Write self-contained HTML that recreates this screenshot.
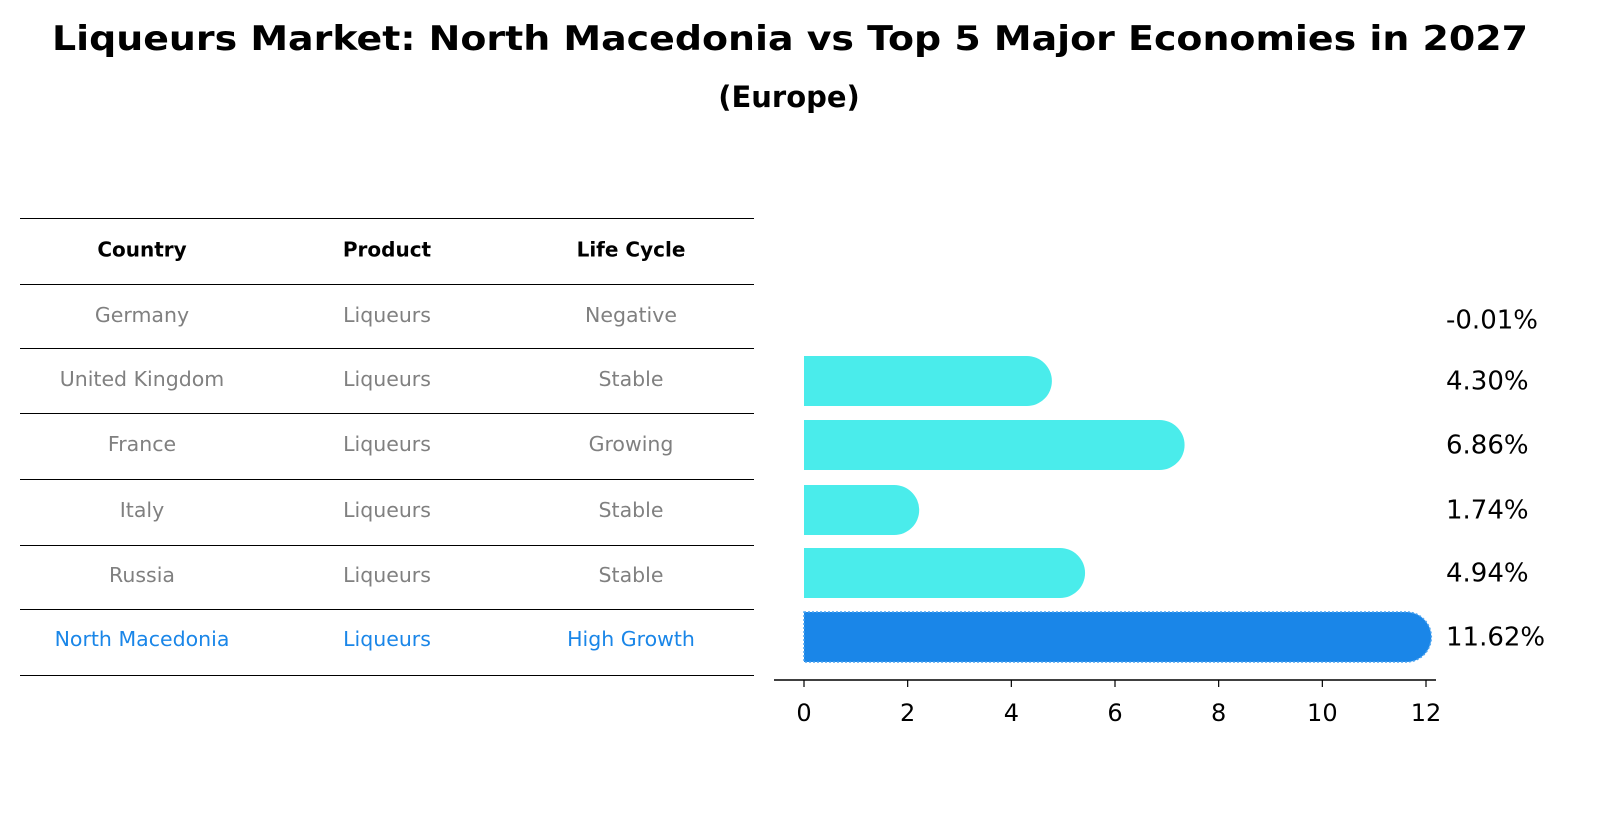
<!DOCTYPE html>
<html><head><meta charset="utf-8"><style>
body{margin:0;background:#fff;font-family:"DejaVu Sans","Liberation Sans",sans-serif;}
svg text{font-family:"DejaVu Sans","Liberation Sans",sans-serif;}
</style></head><body>
<svg id="c" width="1604" height="823" xmlns="http://www.w3.org/2000/svg">
<text x="790" y="50" text-anchor="middle" font-size="34" font-weight="bold" textLength="1476" lengthAdjust="spacingAndGlyphs">Liqueurs Market: North Macedonia vs Top 5 Major Economies in 2027</text>
<text x="789" y="107" text-anchor="middle" font-size="29" font-weight="bold">(Europe)</text>
<g id="table"></g>
<g id="bars"></g>
</svg>
<script>
const countries=["Germany","United Kingdom","France","Italy","Russia","North Macedonia"];
const products=["Liqueurs","Liqueurs","Liqueurs","Liqueurs","Liqueurs","Liqueurs"];
const lifecycle=["Negative","Stable","Growing","Stable","Stable","High Growth"];
const values=[-0.01,4.30,6.86,1.74,4.94,11.62];
const ticks=[0,2,4,6,8,10,12];
const NS="http://www.w3.org/2000/svg";
function mk(t,a,p){const e=document.createElementNS(NS,t);for(const k in a)e.setAttribute(k,a[k]);p.appendChild(e);return e;}
const tb=document.getElementById('table');
const lines=[218,284,348,413,479,545,609,675];
lines.forEach(y=>{const l=mk('line',{x1:20,x2:754,y1:y+0.5,y2:y+0.5,stroke:'#000','stroke-width':1},tb);

});
const cx=[142,387,631];
["Country","Product","Life Cycle"].forEach((h,i)=>{const t=mk('text',{x:cx[i],y:251,'text-anchor':'middle','font-size':20,'font-weight':'bold','dominant-baseline':'middle'},tb);t.textContent=h;

});
const rowY=[316,380,445,511,576,640];
countries.forEach((c,r)=>{const col=r===5?'#1a86e8':'#808080';
[c,products[r],lifecycle[r]].forEach((v,i)=>{const t=mk('text',{x:cx[i],y:rowY[r],'text-anchor':'middle','font-size':20.5,fill:col,'dominant-baseline':'middle'},tb);t.textContent=v;

});});
const bg=document.getElementById('bars');
const x0=804,x12=1426;const sx=v=>x0+(x12-x0)*v/12;
const barY=[320,381,445,510,573,637];const h=50,rr=25;
values.forEach((v,i)=>{const yc=barY[i];const col=i===5?'#1a86e8':'#4aeceb';
if(v>0){const xe=sx(v);
const p=mk('path',{d:`M${x0},${yc-h/2} L${xe},${yc-h/2} A${rr},${rr} 0 0 1 ${xe},${yc+h/2} L${x0},${yc+h/2} Z`,fill:col},bg);
if(i===5){p.setAttribute('stroke','#4aa3f0');p.setAttribute('stroke-dasharray','2,2');p.setAttribute('stroke-width','1.5');}

}
const t=mk('text',{x:1446,y:yc+1,'font-size':26,'dominant-baseline':'middle'},bg);
t.textContent=v.toFixed(2)+'%';

});
const ax=mk('line',{x1:774,x2:1436,y1:680,y2:680,stroke:'#000','stroke-width':1.5},bg);


ticks.forEach(v=>{const x=sx(v);mk('line',{x1:x,x2:x,y1:680,y2:687,stroke:'#000','stroke-width':1.2},bg);
const t=mk('text',{x:x,y:721,'text-anchor':'middle','font-size':24},bg);t.textContent=v;

});
</script>
</body></html>
